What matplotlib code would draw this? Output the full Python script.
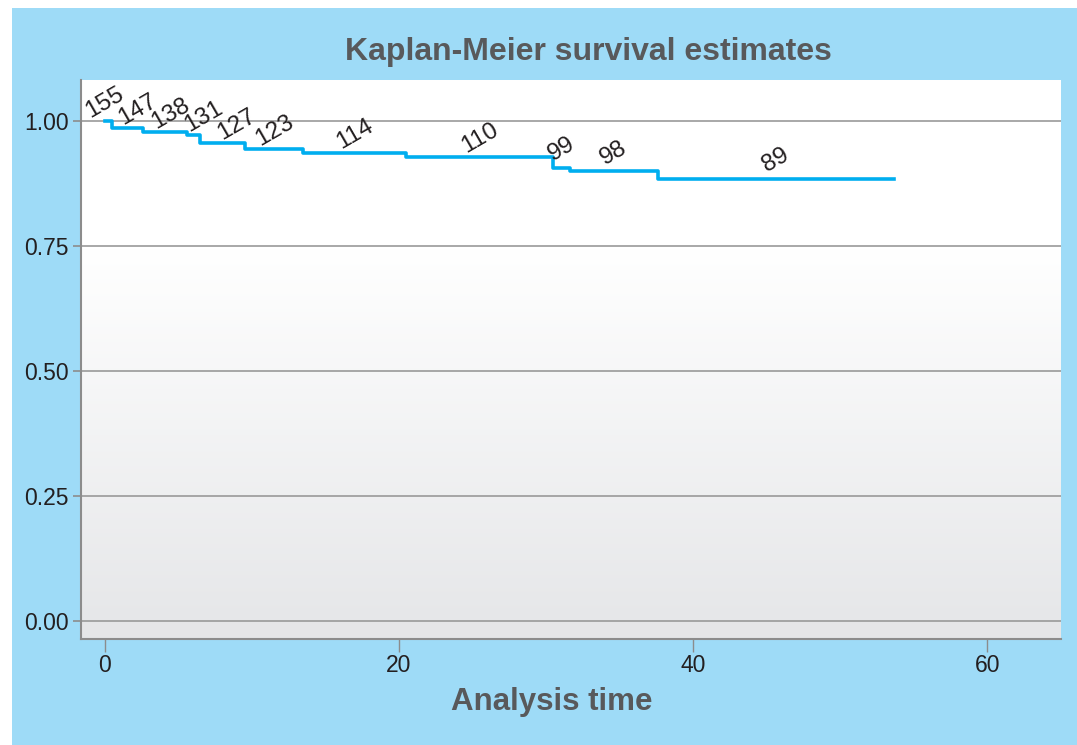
import numpy as np
import matplotlib
matplotlib.use("Agg")
import matplotlib.pyplot as plt
from matplotlib.patches import Rectangle

plt.rcParams['font.family'] = ['Liberation Sans', 'DejaVu Sans']

# Kaplan-Meier step data
times = [0, 0.54, 2.58, 5.6, 6.5, 9.56, 13.5, 20.5, 30.5, 31.6, 37.6]
surv = [1.0, 0.987, 0.979, 0.972, 0.957, 0.945, 0.937, 0.929, 0.907, 0.900, 0.885]
end_time = 53.65
at_risk = [155, 147, 138, 131, 127, 123, 114, 110, 99, 98, 89]

yticks = [0.0, 0.25, 0.5, 0.75, 1.0]
xticks = [0, 20, 40, 60]

blue_bg = '#9edbf7'
grey_txt = '#58595b'

W, H = 1077, 745
fig = plt.figure(figsize=(W / 100, H / 100), dpi=100)
fig.patch.set_facecolor('white')
fig.patches.append(Rectangle((12 / W, 0), 1 - 12 / W, 1 - 8 / H,
                             transform=fig.transFigure, facecolor=blue_bg,
                             edgecolor='none', zorder=-10))

ax = fig.add_axes([81 / W, (H - 639) / H, (1061 - 81) / W, (639 - 80) / H])
ax.set_facecolor('none')

# white -> light grey gradient behind the plot
g = np.concatenate([np.ones(60), np.linspace(1, 0, 140)])
c_top = np.array([1.0, 1.0, 1.0])
c_bot = np.array([0.898, 0.902, 0.910])
grad = (g[:, None] * c_top + (1 - g[:, None]) * c_bot)[:, None, :]
ax.imshow(grad, extent=[0, 1, 0, 1], transform=ax.transAxes, aspect='auto',
          zorder=-5, origin='upper')

st_t = np.append(times, end_time)
st_s = np.append(surv, surv[-1])
ax.step(st_t, st_s, where='post', color='#00aeef', lw=2.6, zorder=3)

# number at risk over the middle of each step, pushed apart so they don't overlap
mids = (st_t[:-1] + st_t[1:]) / 2
lab_x = [0.0]
for m in mids[1:]:
    if m < lab_x[-1] + 2.25:
        m = lab_x[-1] + 2.25
    lab_x.append(m)

for i, n in enumerate(at_risk):
    ax.annotate(str(n), (lab_x[i], surv[i]), xytext=(0, 13), textcoords='offset points',
                rotation=30, rotation_mode='anchor', ha='center', va='center',
                fontsize=17.5, color='#231f20', zorder=4)

ax.set_xlim(-1.6, 65)
ax.set_ylim(-0.036, 1.082)
ax.set_xticks(xticks)
ax.set_yticks(yticks)
ax.set_yticklabels(['%.2f' % v for v in yticks])
ax.grid(axis='y', color='#999999', lw=1.2)
ax.set_axisbelow(True)

for s in ['top', 'right']:
    ax.spines[s].set_visible(False)
for s in ['left', 'bottom']:
    ax.spines[s].set_color('#8c8c8c')
    ax.spines[s].set_linewidth(1.5)

ax.tick_params(axis='y', length=6, width=1.2, color='#8c8c8c', pad=3,
               labelsize=16.5, labelcolor='#231f20')
ax.tick_params(axis='x', length=9, width=1.0, color='#8c8c8c', pad=1.5,
               labelsize=16.5, labelcolor='#231f20')

fig.text(588 / W, 1 - 52 / H, 'Kaplan-Meier survival estimates', ha='center',
         va='center', fontsize=23, fontweight='bold', color=grey_txt)
fig.text(552 / W, 1 - 702 / H, 'Analysis time', ha='center', va='center',
         fontsize=22.5, fontweight='bold', color=grey_txt)

fig.savefig('out.png', dpi=100)
